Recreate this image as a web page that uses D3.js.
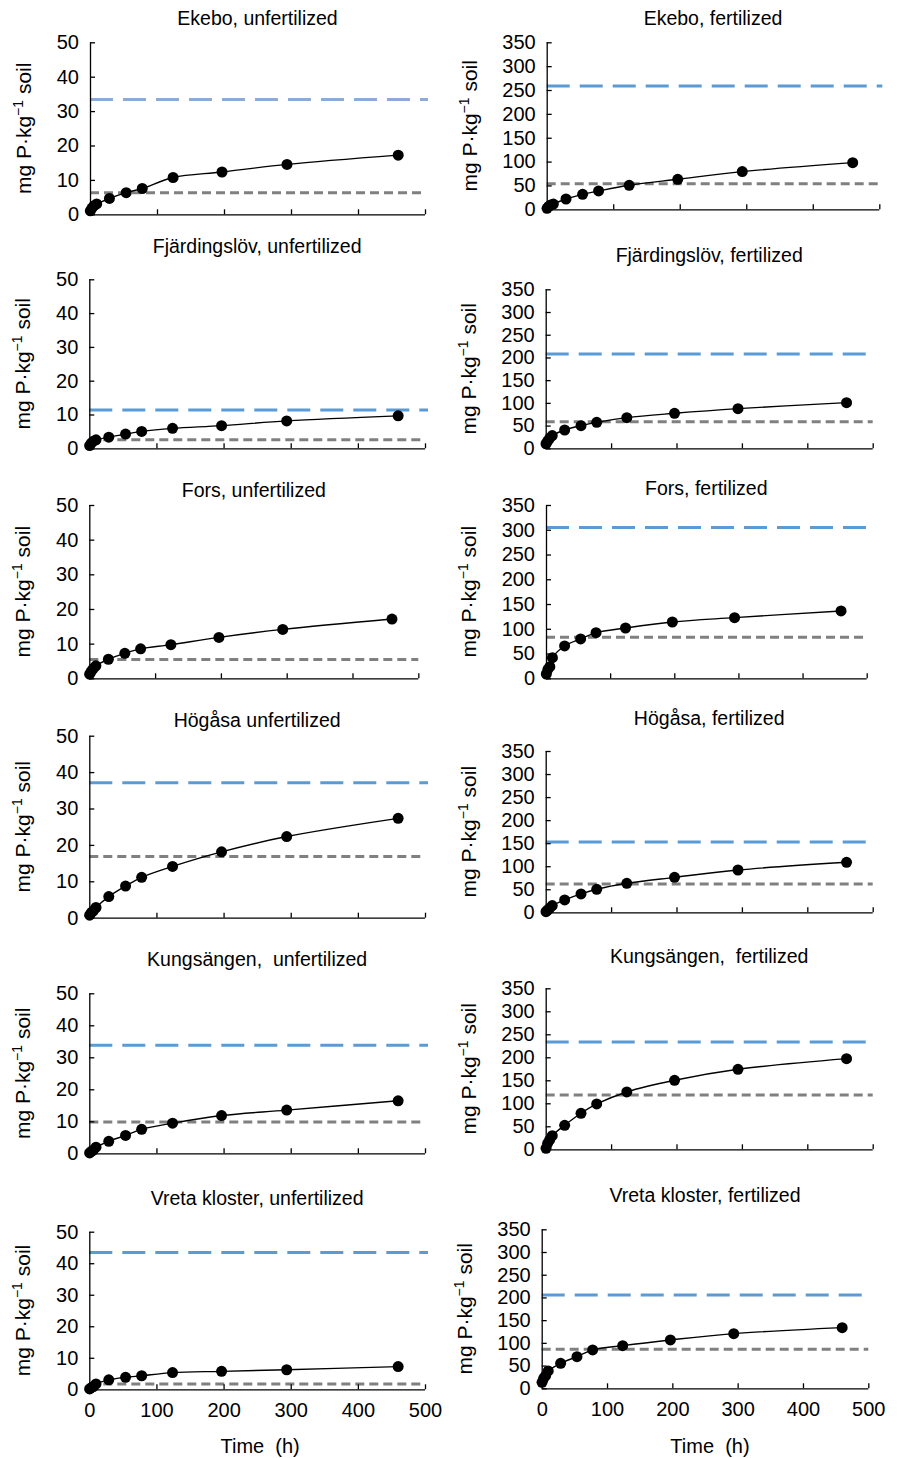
<!DOCTYPE html>
<html>
<head>
<meta charset="utf-8">
<script src="https://cdn.jsdelivr.net/npm/d3@7"></script>
<style>
  body { margin: 0; background: #fff; }
  svg text { font-family: "Liberation Sans", Arial, sans-serif; fill: #000; }
</style>
</head>
<body>
<div id="chart"></div>
<script>
// ========================================
// Data
// ========================================
const times = [0.5, 3, 6, 10, 29, 54, 78, 124, 197, 294, 460];   // h

const titles = [
  'Ekebo, unfertilized', 'Ekebo, fertilized',
  'Fjärdingslöv, unfertilized', 'Fjärdingslöv, fertilized',
  'Fors, unfertilized', 'Fors, fertilized',
  'Högåsa unfertilized', 'Högåsa, fertilized',
  'Kungsängen,  unfertilized', 'Kungsängen,  fertilized',
  'Vreta kloster, unfertilized', 'Vreta kloster, fertilized'
];

const ekeboUnf   = [1.0, 1.8, 2.5, 3.0, 4.6, 6.3, 7.5, 10.7, 12.3, 14.5, 17.2];
const ekeboFert  = [2, 6, 9, 11, 21.6, 31.4, 38.4, 50.3, 62.9, 79, 97.8];
const fjardUnf   = [0.8, 1.5, 2.1, 2.5, 3.3, 4.2, 5.0, 5.9, 6.7, 8.1, 9.6];
const fjardFert  = [10, 16, 22, 28, 40.3, 49.9, 57.2, 67.5, 77, 87.3, 100.5];
const forsUnf    = [1.2, 2.0, 2.8, 3.6, 5.5, 7.2, 8.5, 9.7, 11.8, 14.1, 17.1];
const forsFert   = [8.7, 18.2, 23.5, 41.7, 65.3, 79.4, 92.2, 101.6, 113.7, 122.5, 136];
const hogasaUnf  = [0.7, 1.4, 1.9, 2.8, 5.8, 8.7, 11.1, 14.1, 18.1, 22.3, 27.3];
const hogasaFert = [1.4, 5, 8.7, 14.5, 26.8, 39.8, 49.9, 62.9, 75.9, 91.8, 108.5];
const kungUnf    = [0.1, 0.6, 1.0, 1.9, 3.75, 5.6, 7.5, 9.4, 11.8, 13.5, 16.4];
const kungFert   = [2.2, 13, 20.3, 29.7, 52.2, 78.3, 98.6, 124.6, 150, 173.9, 197.1];
const vretaUnf   = [0.1, 0.5, 0.85, 1.7, 3.0, 3.8, 4.3, 5.3, 5.7, 6.2, 7.2];
const vretaFert  = [13.2, 22, 27.9, 38.2, 55, 69.7, 84.4, 93.9, 106.4, 120.3, 133.5];

const measured = [ekeboUnf, ekeboFert, fjardUnf, fjardFert, forsUnf, forsFert,
                  hogasaUnf, hogasaFert, kungUnf, kungFert, vretaUnf, vretaFert];

// horizontal reference levels (null = not drawn)
const blueLevel = [33.4, 258.6, 11.3, 207.6, null, 304.8, 37.1, 152.6, 33.75, 233.3, 43.4, 205.4];
const grayLevel = [6.3, 53.8, 2.5, 58.7, 5.4, 82.8, 16.8, 61.5, 9.8, 118.1, 1.7, 85.8];

const yMaxUnf = 50, yMaxFert = 350;
const xTicks = [0, 100, 200, 300, 400, 500];

// ========================================
// Layout: plot frame of each panel (page px)
// ========================================
const frames = [
  {l: 90,    r: 425,   t: 42.3,   b: 214.3,  title: 25},
  {l: 546.7, r: 879.3, t: 42.3,   b: 209.3,  title: 25},
  {l: 89.3,  r: 425,   t: 279.3,  b: 448.3,  title: 253},
  {l: 545.7, r: 872.7, t: 289.3,  b: 448.3,  title: 262},
  {l: 89.3,  r: 418.3, t: 505,    b: 678.3,  title: 497},
  {l: 546,   r: 866.7, t: 505,    b: 678.3,  title: 495},
  {l: 89.3,  r: 425,   t: 735.7,  b: 917.7,  title: 727},
  {l: 545.7, r: 872.7, t: 751,    b: 912.3,  title: 725},
  {l: 89.3,  r: 425,   t: 993.3,  b: 1153.3, title: 966},
  {l: 545.7, r: 872.7, t: 988.3,  b: 1149.3, title: 963},
  {l: 89.3,  r: 425,   t: 1231.7, b: 1389.3, title: 1205},
  {l: 541.7, r: 868.3, t: 1229.3, b: 1388.3, title: 1202}
];

const width = 904, height = 1458,
  tickFont = 20, titleFont = 19.5, labelFont = 21,
  blueColor = '#5b9bd5', blueLight = '#8eaadb', grayColor = '#808080',
  dotR = 5.5;

const svg = d3.select('#chart')
  .append('svg')
    .attr('width', width)
    .attr('height', height);

measured.forEach((vals, i) => {
  const f = frames[i];
  const fert = i % 2 === 1;
  const lastRow = i >= 10;

  const x = d3.scaleLinear().domain([0, 500]).range([f.l, f.r]);
  const y = d3.scaleLinear().domain([0, fert ? yMaxFert : yMaxUnf]).range([f.b, f.t]);

  const g = svg.append('g');

  // --- title
  g.append('text')
    .attr('x', (f.l + f.r) / 2 - (fert ? 0 : 0))
    .attr('y', f.title)
    .attr('text-anchor', 'middle')
    .style('font-size', titleFont + 'px')
    .style('white-space', 'pre')
    .text(titles[i]);

  // --- reference lines
  if (blueLevel[i] !== null) {
    g.append('line')
      .attr('x1', x(0)).attr('x2', x(500) + 3)
      .attr('y1', y(blueLevel[i])).attr('y2', y(blueLevel[i]))
      .attr('stroke', i === 0 ? blueLight : blueColor)
      .attr('stroke-width', 3)
      .attr('stroke-dasharray', '23 10');
  }
  g.append('line')
    .attr('x1', x(0)).attr('x2', x(500))
    .attr('y1', y(grayLevel[i])).attr('y2', y(grayLevel[i]))
    .attr('stroke', grayColor)
    .attr('stroke-width', 3)
    .attr('stroke-dasharray', '9 5');

  // --- axes
  const yAxis = d3.axisLeft(y)
    .tickValues(d3.range(0, (fert ? yMaxFert : yMaxUnf) + 1, fert ? 50 : 10))
    .tickSize(-5)
    .tickPadding(11);
  const gy = g.append('g')
    .attr('transform', `translate(${f.l},0)`)
    .call(yAxis);

  const xAxis = d3.axisBottom(x)
    .tickValues(xTicks)
    .tickSize(-5)
    .tickPadding(14)
    .tickFormat(lastRow ? d3.format('d') : () => '');
  const gx = g.append('g')
    .attr('transform', `translate(0,${f.b})`)
    .call(xAxis);

  [gx, gy].forEach(a => {
    a.select('.domain').attr('stroke', '#000').attr('stroke-width', 1.3);
    a.selectAll('.tick line').attr('stroke', '#000').attr('stroke-width', 1.3);
    a.selectAll('.tick text')
      .style('font-size', tickFont + 'px')
      .style('font-family', '"Liberation Sans", Arial, sans-serif')
      .attr('fill', '#000');
  });
  gy.select('.domain').attr('d', `M0.5,${f.b}V${f.t}`);
  gx.select('.domain').attr('d', `M${f.l},0.5H${f.r}`);

  // --- y label
  const lx = f.l - (fert ? 70 : 59), ly = (f.t + f.b) / 2;
  const lab = g.append('text')
    .attr('transform', `translate(${lx},${ly}) rotate(-90)`)
    .attr('text-anchor', 'middle')
    .style('font-size', labelFont + 'px');
  lab.append('tspan').text('mg P·kg');
  lab.append('tspan').attr('dy', -8).style('font-size', '14px').text('−1');
  lab.append('tspan').attr('dy', 8).text(' soil');

  // --- fitted curve and points
  const pts = times.map((t, k) => ({t: t, v: vals[k]}));
  g.append('path')
    .datum(pts)
    .attr('fill', 'none')
    .attr('stroke', '#000')
    .attr('stroke-width', 1.4)
    .attr('d', d3.line().x(d => x(d.t)).y(d => y(d.v)).curve(d3.curveCatmullRom.alpha(0.5)));

  g.selectAll('circle')
    .data(pts)
    .enter()
    .append('circle')
      .attr('cx', d => x(d.t))
      .attr('cy', d => y(d.v))
      .attr('r', dotR)
      .attr('fill', '#000');

  // --- x label on the bottom row
  if (lastRow) {
    g.append('text')
      .attr('x', (f.l + f.r) / 2 + (fert ? 5 : 3))
      .attr('y', 1453)
      .attr('text-anchor', 'middle')
      .style('font-size', labelFont - 1 + 'px')
      .style('white-space', 'pre')
      .text('Time  (h)');
  }
});
</script>
</body>
</html>
